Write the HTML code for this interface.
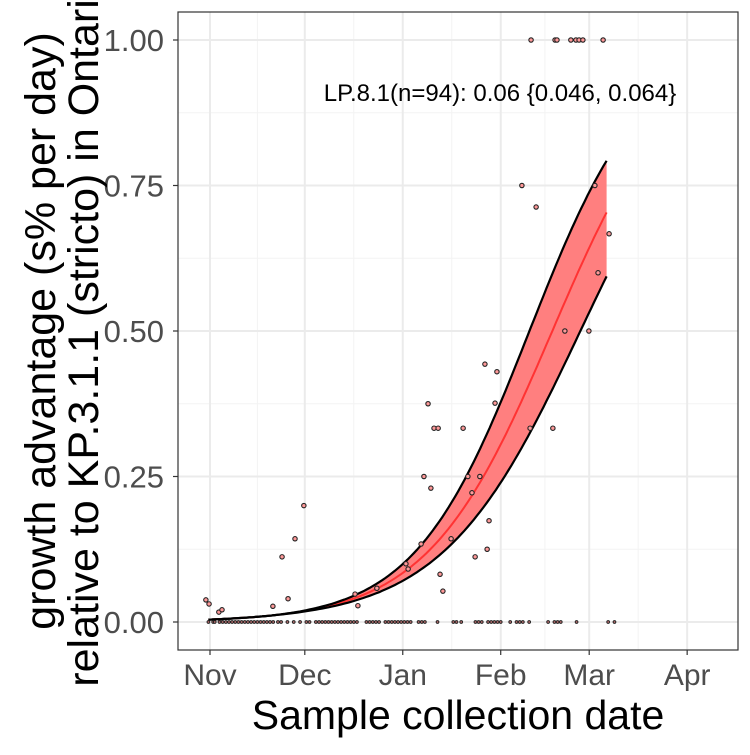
<!DOCTYPE html>
<html><head><meta charset="utf-8"><style>
body{margin:0;background:#fff}
svg text{font-family:"Liberation Sans",sans-serif}
</style></head><body>
<svg id="c" width="750" height="750" xmlns="http://www.w3.org/2000/svg"></svg>
<script>
const monthLabels=["Nov","Dec","Jan","Feb","Mar","Apr"];
const monthDays=[0,30,61,92,120,151];
const yTicks=[0,0.25,0.5,0.75,1.0];
const yTickLabels=["0.00","0.25","0.50","0.75","1.00"];
const pointDays=[-1.3,-0.3,2.8,3.8,19.9,22.8,24.7,26.9,29.7,45.9,46.8,52.8,62.0,62.7,66.8,69.9,69.0,67.7,70.9,72.2,72.8,73.7,76.3,80.1,81.6,82.9,83.9,85.4,87.0,88.3,87.7,90.2,90.8,98.7,103.2,101.3,108.5,112.3,119.9,121.8,122.8,126.3,101.6,109.2,109.8,114.2,115.8,116.8,118,124.4];
const pointVals=[0.038,0.031,0.017,0.021,0.027,0.112,0.040,0.143,0.200,0.048,0.028,0.058,0.100,0.091,0.134,0.230,0.375,0.25,0.333,0.333,0.082,0.053,0.143,0.333,0.25,0.222,0.112,0.25,0.443,0.174,0.125,0.376,0.43,0.75,0.713,0.333,0.333,0.5,0.5,0.75,0.6,0.667,1,1,1,1,1,1,1,1];
const zeroDays=[-0.5,1,1.5,3,4,5,6,7,8,9,10,11,12,13,14,15,16,17,18,19,20,21.5,22.5,24.5,26.5,28.5,30.5,31.5,33.5,34.5,35.5,36.5,37.5,38.5,39.5,40.5,41.5,42.5,43.5,44.5,45.5,46.5,49.5,50.5,51.5,52.5,53.5,55.5,56.5,57.5,58.5,59.5,60.5,61.5,62.5,63.5,66,67,68,72,77,78,79.5,84,85,86,88,89,90,91,92,95,97,98,99,101,107,109,110,111,116,126,128];
const fitIntercept=[-5.46];
const fitRate=[0.0504];
const bandPivotDay=[20];
const bandRates=[0.0549,0.0458];
const fitEndDay=[126.3];
const fitStartDay=[-0.5];

const svg=document.getElementById('c');
const NS="http://www.w3.org/2000/svg";
const L=178,R=738,T=12,B=650;
const X=d=>210+d*3.16;
const Y=v=>622-v*582;
function mk(tag,attrs,name,parent){const e=document.createElementNS(NS,tag);for(const k in attrs)e.setAttribute(k,attrs[k]);


(parent||svg).appendChild(e);return e;}
mk('rect',{x:L,y:T,width:R-L,height:B-T,fill:'#fff'},'plot-panel');
const grid=mk('g',{},'gridlines');
for(let i=0;i<yTicks.length-1;i++){const v=(yTicks[i]+yTicks[i+1])/2;
mk('line',{x1:L,x2:R,y1:Y(v),y2:Y(v),stroke:'#f3f3f3','stroke-width':1},'y-minor-grid',grid);}
for(let i=0;i<monthDays.length-1;i++){const d=(monthDays[i]+monthDays[i+1])/2;
mk('line',{x1:X(d),x2:X(d),y1:T,y2:B,stroke:'#f3f3f3','stroke-width':1},'x-minor-grid',grid);}
yTicks.forEach(v=>mk('line',{x1:L,x2:R,y1:Y(v),y2:Y(v),stroke:'#ebebeb','stroke-width':2},'y-major-grid',grid));
monthDays.forEach(d=>mk('line',{x1:X(d),x2:X(d),y1:T,y2:B,stroke:'#ebebeb','stroke-width':2},'x-major-grid',grid));
const lg=t=>1/(1+Math.exp(-t));
const center=d=>lg(fitIntercept[0]+fitRate[0]*d);
const c0=fitIntercept[0]+fitRate[0]*bandPivotDay[0];
const up=d=>lg(c0+bandRates[0]*(d-bandPivotDay[0]));
const lo=d=>lg(c0+bandRates[1]*(d-bandPivotDay[0]));
let upP=[],loP=[],cP=[];
for(let d=fitStartDay[0];d<=fitEndDay[0]+0.01;d+=1){upP.push(X(d).toFixed(1)+','+Y(Math.max(up(d),center(d))).toFixed(1));loP.push(X(d).toFixed(1)+','+Y(Math.min(lo(d),center(d))).toFixed(1));cP.push(X(d).toFixed(1)+','+Y(center(d)).toFixed(1));}
mk('polygon',{points:upP.concat(loP.slice().reverse()).join(' '),fill:'#ff7f7f',stroke:'none'},'confidence-band');
mk('polyline',{points:cP.join(' '),fill:'none',stroke:'#ff3333','stroke-width':2},'fit-line');
mk('polyline',{points:upP.join(' '),fill:'none',stroke:'#000','stroke-width':2.2},'band-upper-edge');
mk('polyline',{points:loP.join(' '),fill:'none',stroke:'#000','stroke-width':2.2},'band-lower-edge');
const pg=mk('g',{},'data-points');
zeroDays.forEach(d=>mk('circle',{cx:X(d),cy:Y(0),r:1.4,fill:'#a66',stroke:'#222','stroke-width':0.9},'zero-point',pg));
pointDays.forEach((d,i)=>mk('circle',{cx:X(d),cy:Y(pointVals[i]),r:2.2,fill:'#f99',stroke:'#222','stroke-width':1.1},'data-point',pg));
mk('rect',{x:L,y:T,width:R-L,height:B-T,fill:'none',stroke:'#333','stroke-width':1.2},'panel-border');
yTicks.forEach((v,i)=>{mk('line',{x1:L-5,x2:L,y1:Y(v),y2:Y(v),stroke:'#333','stroke-width':1.2},'y-tick');
const t=mk('text',{x:164,y:Y(v)+11,'text-anchor':'end','font-size':31,fill:'#4d4d4d'},'y-tick-label');t.textContent=yTickLabels[i];});
monthDays.forEach((d,i)=>{mk('line',{x1:X(d),x2:X(d),y1:B,y2:B+5,stroke:'#333','stroke-width':1.2},'x-tick');
const t=mk('text',{x:X(d),y:685,'text-anchor':'middle','font-size':30,fill:'#4d4d4d'},'x-tick-label');t.textContent=monthLabels[i];});
let t=mk('text',{x:458,y:729,'text-anchor':'middle','font-size':41,fill:'#000'},'x-axis-title');t.textContent='Sample collection date';
t=mk('text',{x:0,y:0,'text-anchor':'middle','font-size':43,fill:'#000',transform:'translate(55,331) rotate(-90)'},'y-axis-title-line1');t.textContent='growth advantage (s% per day)';
t=mk('text',{x:0,y:0,'text-anchor':'middle','font-size':43,fill:'#000',transform:'translate(98,331) rotate(-90)'},'y-axis-title-line2');t.textContent='relative to KP.3.1.1 (stricto) in Ontario';
t=mk('text',{x:500,y:101,'text-anchor':'middle','font-size':24,fill:'#000'},'growth-annotation');t.textContent='LP.8.1(n=94): 0.06 {0.046, 0.064}';
</script>
</body></html>
